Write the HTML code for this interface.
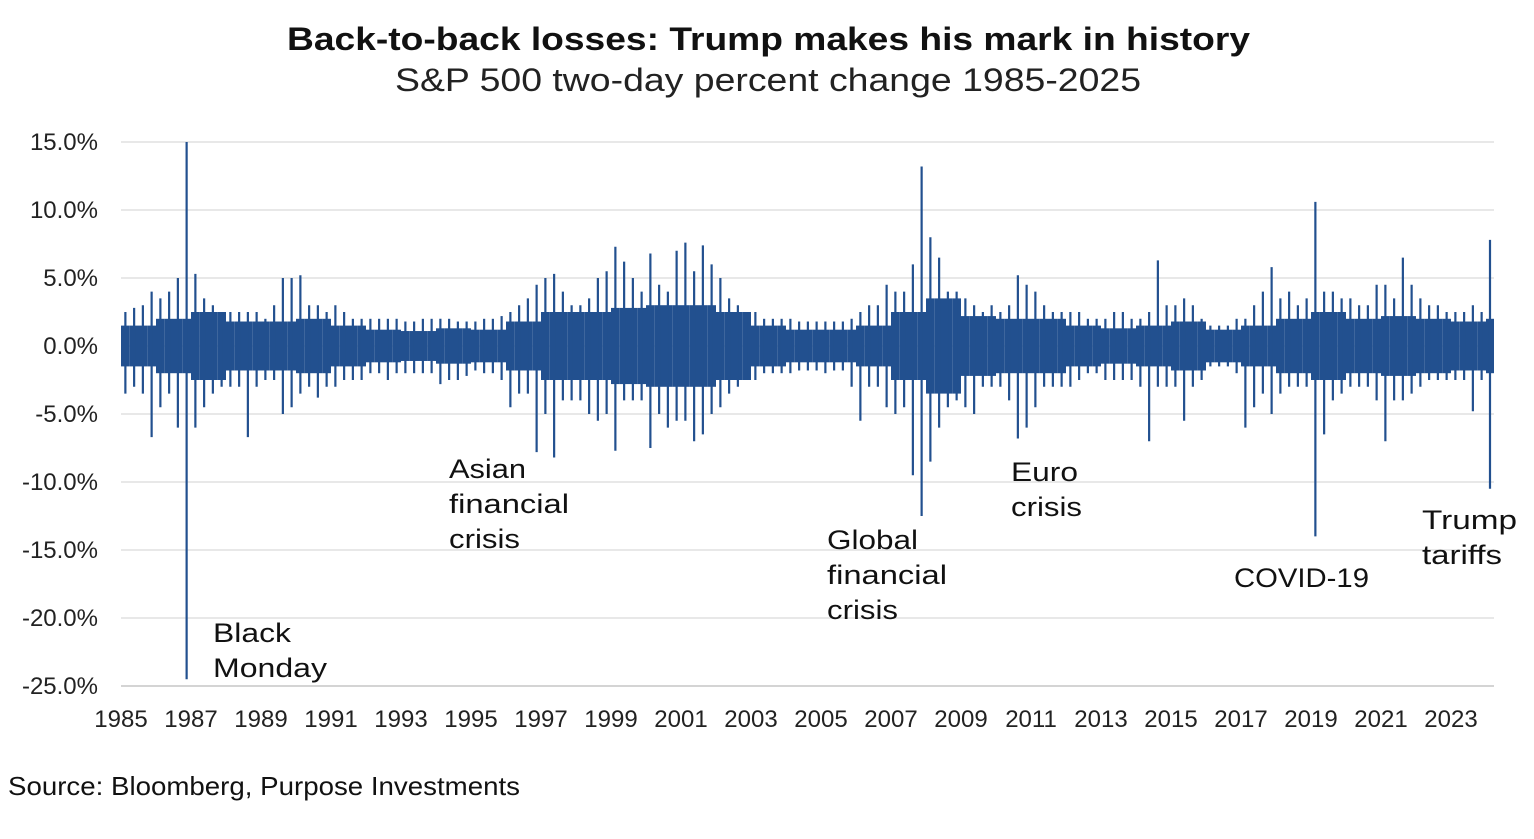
<!DOCTYPE html>
<html><head><meta charset="utf-8"><style>
body{margin:0;background:#fff;width:1534px;height:834px;overflow:hidden;font-family:"Liberation Sans",sans-serif}
svg text{font-family:"Liberation Sans",sans-serif}
</style></head><body>
<svg id="chart" width="1534" height="834" xmlns="http://www.w3.org/2000/svg">
<text x="287" y="50" font-size="32" font-weight="bold" fill="#111" textLength="963" lengthAdjust="spacingAndGlyphs">Back-to-back losses: Trump makes his mark in history</text>
<text x="395" y="91" font-size="32" fill="#222" textLength="746" lengthAdjust="spacingAndGlyphs">S&amp;P 500 two-day percent change 1985-2025</text>
<g id="grid"></g>
<g id="yaxis"></g>
<g id="xaxis"></g>
<g id="series"></g>
<g font-size="27" fill="#111">
<text x="213" y="642" textLength="78" lengthAdjust="spacingAndGlyphs">Black</text>
<text x="213" y="677" textLength="114" lengthAdjust="spacingAndGlyphs">Monday</text>
<text x="449" y="478" textLength="77" lengthAdjust="spacingAndGlyphs">Asian</text>
<text x="449" y="513" textLength="120" lengthAdjust="spacingAndGlyphs">financial</text>
<text x="449" y="548" textLength="71" lengthAdjust="spacingAndGlyphs">crisis</text>
<text x="827" y="549" textLength="91" lengthAdjust="spacingAndGlyphs">Global</text>
<text x="827" y="584" textLength="120" lengthAdjust="spacingAndGlyphs">financial</text>
<text x="827" y="619" textLength="71" lengthAdjust="spacingAndGlyphs">crisis</text>
<text x="1011" y="481" textLength="67" lengthAdjust="spacingAndGlyphs">Euro</text>
<text x="1011" y="516" textLength="71" lengthAdjust="spacingAndGlyphs">crisis</text>
<text x="1234" y="587" textLength="135" lengthAdjust="spacingAndGlyphs">COVID-19</text>
<text x="1422" y="529" textLength="95" lengthAdjust="spacingAndGlyphs">Trump</text>
<text x="1422" y="564" textLength="80" lengthAdjust="spacingAndGlyphs">tariffs</text>
</g>
<text x="8" y="795" font-size="26" fill="#111" textLength="512" lengthAdjust="spacingAndGlyphs">Source: Bloomberg, Purpose Investments</text>
</svg>
<script>
const yTicks=[15,10,5,0,-5,-10,-15,-20,-25];
const xTickLabels=[1985,1987,1989,1991,1993,1995,1997,1999,2001,2003,2005,2007,2009,2011,2013,2015,2017,2019,2021,2023];
// quarterly highs (%) starting 1985 Q1
const qHigh=[2.5,2.8,3,4, 3.5,4,5,15, 5.3,3.5,3,2.5, 2.5,2.5,2.5,2.5, 2,3,5,5, 5.2,3,3,2.5, 3,2.5,2,2, 2,2,2,2, 1.8,1.8,2,2, 2,2,1.8,1.8,
1.8,2,2,2.2, 2.5,3,3.5,4.5, 5,5.3,4,3, 3,3.5,5,5.5, 7.3,6.2,5,4, 6.8,4.5,4,7, 7.6,5.5,7.4,6, 5,3.5,3,2.5, 2.5,2,2,2, 2,1.8,1.8,1.8,
1.8,1.8,1.8,2, 2.5,3,3,4.5, 4,4,6,13.2, 8,6.5,4,4, 3.5,3,2.5,3, 2.5,3,5.2,4.5, 4,3,2.5,2.5, 2.5,2.5,2,2, 2,2.5,2.5,2, 2,2.5,6.3,3,
3,3.5,3,2, 1.5,1.5,1.5,2, 2,3,4,5.8, 3.5,4,3,3.5, 10.6,4,4,3.5, 3.5,3,3,4.5, 4.5,3.5,6.5,4.5, 3.5,3,3,2.5, 2.5,2.5,3,2.5, 7.8];
// quarterly lows (%)
const qLow=[-3.5,-3,-3.5,-6.7, -4.5,-3.5,-6,-24.5, -6,-4.5,-3.5,-3, -3,-3,-6.7,-3, -2.5,-2.5,-5,-4.5, -3.5,-3,-3.8,-3, -3,-2.5,-2.5,-2.5, -2,-2,-2.5,-2, -2,-2,-2,-2, -2.8,-2.5,-2.5,-2.2,
-1.8,-2,-2,-2.5, -4.5,-3.5,-3.5,-7.8, -5,-8.2,-4,-4, -4,-5,-5.5,-5, -7.7,-4,-4,-4, -7.5,-5,-6,-5.5, -5.5,-7,-6.5,-5, -4.5,-3.5,-3,-2.5, -2.5,-2,-2,-2, -2,-1.8,-1.8,-1.8,
-2,-1.8,-1.8,-3, -5.5,-3,-3,-4.5, -5,-4.5,-9.5,-12.5, -8.5,-6,-4.5,-4, -4.5,-5,-3,-3, -3,-4,-6.8,-6, -4.5,-3,-3,-3, -3,-2.5,-2,-2, -2.5,-2.5,-2.5,-2.5, -3,-7,-3,-3,
-3,-5.5,-3,-2.5, -1.5,-1.5,-1.5,-2, -6,-4.5,-3.5,-5, -3.5,-3,-3,-3, -14,-6.5,-4,-3.5, -3,-3,-3,-4, -7,-4,-4,-3.5, -3,-2.5,-2.5,-2.5, -2.5,-2.5,-4.8,-2.5, -10.5];
// typical dense band half-width (%) per year from 1985
const coreBand=[1.5,2,2.5,1.8,1.8,2,1.5,1.2,1.1,1.3,1.2,1.8,2.5,2.5,2.8,3,3,2.5,1.5,1.2,1.2,1.5,2.5,3.5,2.2,2,2,1.5,1.3,1.5,1.8,1.2,1.5,2,2.5,2,2.2,2,1.8,2];
const NS="http://www.w3.org/2000/svg";
const X0=121,X1=1494,YT=142,YB=686;
const yS=v=>YT+(15-v)*(YB-YT)/40;
const xS=t=>X0+(t-1985)*35;
const grid=document.getElementById('grid'),ya=document.getElementById('yaxis'),xa=document.getElementById('xaxis'),ser=document.getElementById('series');
function mk(tag,attrs,parent){const e=document.createElementNS(NS,tag);for(const k in attrs)e.setAttribute(k,attrs[k]);parent.appendChild(e);return e;}
yTicks.forEach(v=>{
  const l=mk('line',{x1:X0,x2:X1,y1:yS(v),y2:yS(v),stroke:v===-25?'#bbb':'#d9d9d9','stroke-width':1.3},grid);
  
  
  const t=mk('text',{x:98,y:yS(v)+8,'text-anchor':'end','font-size':24,fill:'#222'},ya);
  t.textContent=v.toFixed(1)+'%';
  
  
});
xTickLabels.forEach(yr=>{
  const t=mk('text',{x:xS(yr),y:727,'text-anchor':'middle','font-size':24,fill:'#222'},xa);
  t.textContent=yr;
  
  
});
const C='#22508f';
const qw=35/4;
qHigh.forEach((h,i)=>{
  const t=1985+i/4;
  const x=xS(t);
  const w=Math.min(qw, X1-x);
  const c=coreBand[Math.floor(i/4)];
  const r=mk('rect',{x:x,y:yS(c),width:w,height:yS(-c)-yS(c),fill:C},ser);
  
  
  const cx=Math.min(x+w/2,X1-1);
  const l=mk('line',{x1:cx,x2:cx,y1:yS(h),y2:yS(qLow[i]),stroke:C,'stroke-width':2.2},ser);
  
  
});
</script>
</body></html>
